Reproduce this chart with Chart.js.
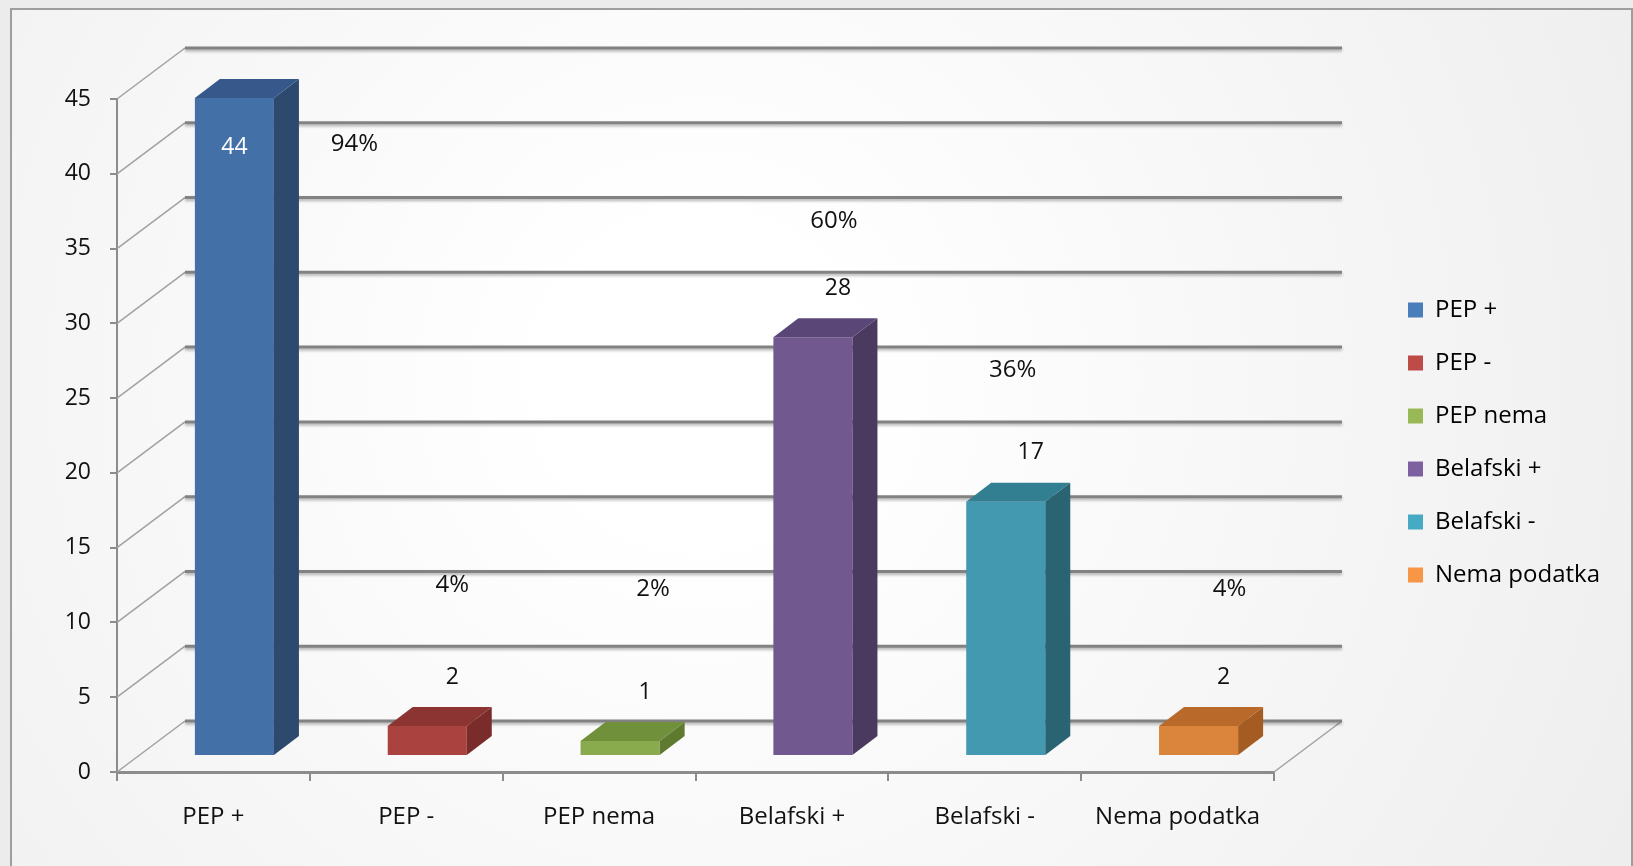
<!DOCTYPE html>
<html>
<head>
<meta charset="utf-8">
<title>PEP / Belafski</title>
<script src="https://cdn.jsdelivr.net/npm/chart.js@4.4.0/dist/chart.umd.min.js"></script>
<style>
    html, body { margin: 0; padding: 0; background: #eeeeee; }
    canvas { display: block; }
</style>
</head>
<body>
<canvas id="grafikon" width="1633" height="866"></canvas>
<script>
// podaci
const kategorije = ['PEP +', 'PEP -', 'PEP nema', 'Belafski +', 'Belafski -', 'Nema podatka'];
const broj = [44, 2, 1, 28, 17, 2];
const postotak = [94, 4, 2, 60, 36, 4];
const yMin = 0;
const yMax = 45;
const yKorak = 5;

// boje stupaca: prednja strana, bok, vrh, legenda
const bojeLice = ['#4470a8', '#aa4340', '#89aa4d', '#71598f', '#4299b0', '#da843c'];
const bojeBok = ['#2d4a6e', '#7a2c2a', '#5e7a2f', '#4a3a60', '#2a6473', '#a45c22'];
const bojeVrh = ['#36588a', '#8b3432', '#71903b', '#5b4777', '#337f92', '#b96a2b'];
const bojeLegenda = ['#4a7ebb', '#be4b48', '#98b954', '#7d60a0', '#46aac5', '#f79646'];

// položaj natpisa s postocima: pomak od sredine kategorije (px) i visina na osi
const polozajPostotka = [[141, 42], [46, 12.5], [54, 12.2], [42, 36.8], [28, 26.9], [52, 12.2]];

// 3D pomaci: prednja ravnina -> stražnji zid, prednja ravnina -> lice stupca, dubina stupca
const ZID = {x: 68, y: -51};
const STUPAC = {x: 21, y: -16};
const DUBINA = {x: 25, y: -19};

const FONT = 24;
const FONT_OS = 23;
const PISMO = '"Open Sans", "Noto Sans", sans-serif';
Chart.defaults.font.family = PISMO;
Chart.defaults.font.size = FONT;
Chart.defaults.color = '#111111';

// legenda počinje na x = 1408
const mjera = document.createElement('canvas').getContext('2d');
mjera.font = FONT + 'px ' + PISMO;
const sirinaTeksta = Math.max(...kategorije.map(k => mjera.measureText(k).width));
const LEG_PADDING = 29;
const desnaMargina = Math.max(0, 1633 - 1379 - (LEG_PADDING + 15 + FONT / 2 + sirinaTeksta + 10));

const pozadina = {
    id: 'pozadina',
    beforeDraw(chart) {
        const ctx = chart.ctx;
        const w = chart.width, h = chart.height;
        ctx.save();
        ctx.fillStyle = '#ececec';
        ctx.fillRect(0, 0, w, h);
        const g = ctx.createRadialGradient(700, 380, 150, 700, 380, 1150);
        g.addColorStop(0, '#ffffff');
        g.addColorStop(1, '#ececec');
        ctx.fillStyle = g;
        ctx.fillRect(11, 9, w - 11, h - 9);
        ctx.strokeStyle = '#9e9e9e';
        ctx.lineWidth = 2;
        ctx.strokeRect(11, 9, w - 12, h + 10);
        ctx.restore();
    },
    // legenda malo niže od sredine
    afterLayout(chart) {
        chart.legend.top += 7;
        chart.legend.bottom += 7;
    }
};

const zidovi = {
    id: 'zidovi',
    beforeDatasetsDraw(chart) {
        const ctx = chart.ctx;
        const x = chart.scales.x, y = chart.scales.y;
        const L = x.left, R = x.right;
        ctx.save();
        // lijevi zid i pod
        ctx.strokeStyle = '#a2a2a2';
        ctx.lineWidth = 1.5;
        y.ticks.forEach(t => {
            const py = y.getPixelForValue(t.value);
            ctx.beginPath();
            ctx.moveTo(L, py);
            ctx.lineTo(L + ZID.x, py + ZID.y);
            ctx.stroke();
        });
        const p0 = y.getPixelForValue(0);
        ctx.beginPath();
        ctx.moveTo(R, p0);
        ctx.lineTo(R + ZID.x, p0 + ZID.y);
        ctx.stroke();
        // stražnji zid - linije mreže
        ctx.strokeStyle = '#828282';
        ctx.lineWidth = 3;
        ctx.shadowColor = 'rgba(0, 0, 0, 0.3)';
        ctx.shadowBlur = 3;
        ctx.shadowOffsetY = 2;
        y.ticks.forEach(t => {
            const py = y.getPixelForValue(t.value) + ZID.y;
            ctx.beginPath();
            ctx.moveTo(L + ZID.x, py);
            ctx.lineTo(R + ZID.x, py);
            ctx.stroke();
        });
        ctx.restore();
        // lica stupaca se crtaju pomaknuta u dubinu
        ctx.save();
        ctx.translate(STUPAC.x, STUPAC.y);
    },
    afterDatasetsDraw(chart) {
        const ctx = chart.ctx;
        ctx.restore();
        const x = chart.scales.x, y = chart.scales.y;
        const meta = chart.getDatasetMeta(0);

        meta.data.forEach((bar, i) => {
            const p = bar.getProps(['x', 'y', 'base', 'width'], true);
            const l = p.x - p.width / 2 + STUPAC.x;
            const r = p.x + p.width / 2 + STUPAC.x;
            const t = p.y + STUPAC.y;
            const b = p.base + STUPAC.y;

            ctx.fillStyle = bojeBok[i];
            ctx.beginPath();
            ctx.moveTo(r, t);
            ctx.lineTo(r + DUBINA.x, t + DUBINA.y);
            ctx.lineTo(r + DUBINA.x, b + DUBINA.y);
            ctx.lineTo(r, b);
            ctx.closePath();
            ctx.fill();

            ctx.fillStyle = bojeVrh[i];
            ctx.beginPath();
            ctx.moveTo(l, t);
            ctx.lineTo(l + DUBINA.x, t + DUBINA.y);
            ctx.lineTo(r + DUBINA.x, t + DUBINA.y);
            ctx.lineTo(r, t);
            ctx.closePath();
            ctx.fill();
        });

        // natpisi vrijednosti i postotaka
        ctx.save();
        ctx.font = FONT_OS + 'px ' + PISMO;
        ctx.textAlign = 'center';
        ctx.textBaseline = 'middle';
        meta.data.forEach((bar, i) => {
            const p = bar.getProps(['x', 'y'], true);
            const cx = p.x + STUPAC.x;
            const top = p.y + STUPAC.y;
            if (i === 0) {
                ctx.fillStyle = '#ffffff';
                ctx.fillText(String(broj[i]), cx, top + 49);
            } else {
                ctx.fillStyle = '#111111';
                ctx.fillText(String(broj[i]), cx + 25, top - 49);
            }
        });
        ctx.font = FONT + 'px ' + PISMO;
        ctx.fillStyle = '#111111';
        postotak.forEach((v, i) => {
            const px = x.getPixelForValue(i) + polozajPostotka[i][0];
            const py = y.getPixelForValue(polozajPostotka[i][1]);
            ctx.fillText(v + '%', px, py);
        });
        ctx.restore();
    }
};

new Chart(document.getElementById('grafikon'), {
    type: 'bar',
    data: {
        labels: kategorije,
        datasets: [{
            data: broj,
            backgroundColor: bojeLice,
            borderWidth: 0,
            barPercentage: 1,
            categoryPercentage: 0.41,
            clip: false
        }]
    },
    options: {
        responsive: false,
        animation: false,
        layout: {padding: {left: 11, top: 99, right: desnaMargina, bottom: 0}},
        plugins: {
            tooltip: {enabled: false},
            legend: {
                position: 'right',
                fullSize: false,
                labels: {
                    boxWidth: 15,
                    boxHeight: 15,
                    padding: LEG_PADDING,
                    color: '#111111',
                    font: {size: FONT},
                    generateLabels: () => kategorije.map((k, i) => ({
                        text: k,
                        fillStyle: bojeLegenda[i],
                        strokeStyle: bojeLegenda[i],
                        lineWidth: 0,
                        hidden: false,
                        index: i
                    }))
                }
            }
        },
        scales: {
            x: {
                grid: {display: true, drawOnChartArea: false, drawTicks: true, tickLength: 9, color: '#8c8c8c', lineWidth: 2, offset: true},
                border: {display: true, color: '#8c8c8c', width: 3},
                ticks: {padding: 22, color: '#111111', font: {size: FONT}},
                afterFit: s => { s.height = 94; }
            },
            y: {
                min: yMin,
                max: yMax,
                ticks: {stepSize: yKorak, padding: 19, color: '#111111', font: {size: FONT_OS}},
                grid: {drawOnChartArea: false, drawTicks: true, tickLength: 7, color: '#8c8c8c', lineWidth: 2},
                border: {display: true, color: '#8c8c8c', width: 2},
                afterFit: s => { s.width = 106; }
            },
            // prazan prostor između stražnjeg zida i legende
            razmak: {
                type: 'linear',
                position: 'right',
                display: true,
                grid: {display: false},
                ticks: {display: false},
                border: {display: false},
                afterFit: s => { s.width = 105; }
            }
        }
    },
    plugins: [pozadina, zidovi]
});
</script>
</body>
</html>
